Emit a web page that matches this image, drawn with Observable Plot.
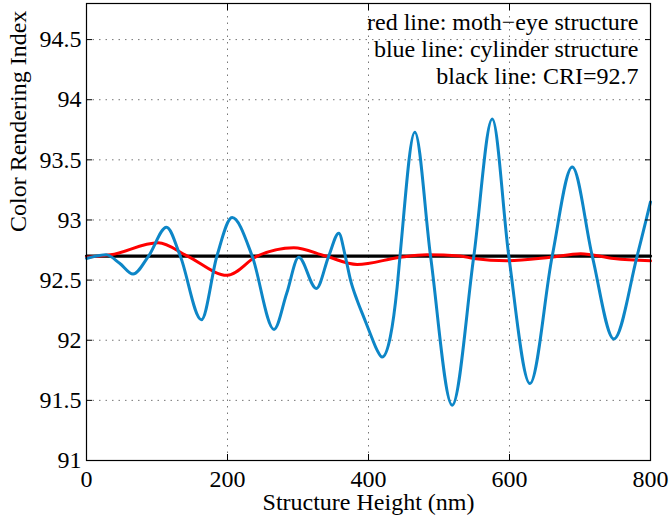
<!DOCTYPE html>
<html><head><meta charset="utf-8">
<script src="https://cdn.jsdelivr.net/npm/d3@7"></script>
<script src="https://cdn.jsdelivr.net/npm/@observablehq/plot@0.6"></script>
<style>html,body{margin:0;padding:0;background:#fff} svg{display:block}</style>
</head><body><div id="chart"></div>
<script>
const xTicks = [0, 200, 400, 600, 800];
const yTicks = [91, 91.5, 92, 92.5, 93, 93.5, 94, 94.5];
const xLabel = "Structure Height (nm)";
const yLabel = "Color Rendering Index";
const legendLines = ["red line: moth\u2212eye structure", "blue line: cylinder structure", "black line: CRI=92.7"];

// blue line: cylinder structure
const blueX = [0, 28, 47, 66, 88, 113.5, 133, 163, 185, 206.6, 235, 266, 284, 301, 326, 343.6, 357.9, 367, 374.5, 384, 393.4, 402.8, 412, 419.3, 431, 440.6, 445, 465.7, 488, 518.7, 549.4, 575.5, 599, 629, 660.6, 689, 717.4, 748, 781, 800];
const blueY = [92.68, 92.71, 92.64, 92.55, 92.70, 92.94, 92.70, 92.17, 92.70, 93.02, 92.70, 92.09, 92.39, 92.69, 92.43, 92.70, 92.89, 92.70, 92.50, 92.33, 92.19, 92.05, 91.92, 91.86, 92.03, 92.44, 92.72, 93.73, 92.70, 91.46, 92.70, 93.84, 92.70, 91.64, 92.70, 93.44, 92.70, 92.01, 92.70, 93.15];

// red line: moth-eye structure
const redX = [0, 34, 101.6, 143, 199.6, 242, 294, 339, 384, 445, 483, 530, 549, 597, 658, 701, 748, 800];
const redY = [92.69, 92.71, 92.81, 92.70, 92.54, 92.70, 92.77, 92.70, 92.63, 92.69, 92.71, 92.70, 92.68, 92.66, 92.69, 92.72, 92.68, 92.66];

// black line: CRI = 92.7
const blackX = [0, 800];
const blackY = [92.7, 92.7];

const toRows = (xs, ys) => xs.map((x, i) => ({x, y: ys[i]}));
const blue = toRows(blueX, blueY);
const red = toRows(redX, redY);
const black = toRows(blackX, blackY);

const gridStyle = {stroke: "#777", strokeOpacity: 1, strokeDasharray: "1.5,5", strokeWidth: 1};

const chart = Plot.plot({
  width: 671,
  height: 522,
  marginLeft: 86,
  marginRight: 21,
  marginTop: 3,
  marginBottom: 62,
  style: {fontFamily: "'Liberation Serif', 'Times New Roman', serif", fontSize: "24px", background: "#fff", color: "#000", overflow: "visible"},
  x: {domain: [0, 800]},
  y: {domain: [91, 94.8]},
  marks: [
    Plot.gridX(xTicks, gridStyle),
    Plot.gridY(yTicks, gridStyle),
    Plot.line(black, {x: "x", y: "y", stroke: "#000", strokeWidth: 3.2}),
    Plot.line(red, {x: "x", y: "y", stroke: "#ff0000", strokeWidth: 3, curve: "monotone-x"}),
    Plot.line(blue, {x: "x", y: "y", stroke: "#0d86c7", strokeWidth: 3, curve: "monotone-x"}),
    Plot.frame({stroke: "#000", strokeWidth: 1.2}),
    Plot.axisX(xTicks, {anchor: "bottom", tickSize: 0, tickPadding: 9, tickFormat: d => String(d), label: null, fontSize: 24}),
    Plot.axisY(yTicks, {anchor: "left", tickSize: 0, tickPadding: 5, tickFormat: d => String(d), label: null, fontSize: 24}),
    Plot.axisX(xTicks, {anchor: "bottom", tickSize: -6, tickFormat: () => "", label: null}),
    Plot.axisX(xTicks, {anchor: "top", tickSize: -6, tickFormat: () => "", label: null}),
    Plot.axisY(yTicks, {anchor: "left", tickSize: -6, tickFormat: () => "", label: null}),
    Plot.axisY(yTicks, {anchor: "right", tickSize: -6, tickFormat: () => "", label: null}),
    Plot.text([xLabel], {frameAnchor: "bottom", dy: 42, lineAnchor: "middle", fontSize: 24, fill: "#000"}),
    Plot.text([yLabel], {frameAnchor: "left", dx: -68, rotate: -90, lineAnchor: "middle", fontSize: 24, fill: "#000"}),
    Plot.text([legendLines.join("\n")], {frameAnchor: "top-right", textAnchor: "end", lineAnchor: "top", dx: -12, dy: 7, lineHeight: 1.13, fontSize: 24, fill: "#000"})
  ]
});
document.getElementById("chart").appendChild(chart);
</script>
</body></html>
